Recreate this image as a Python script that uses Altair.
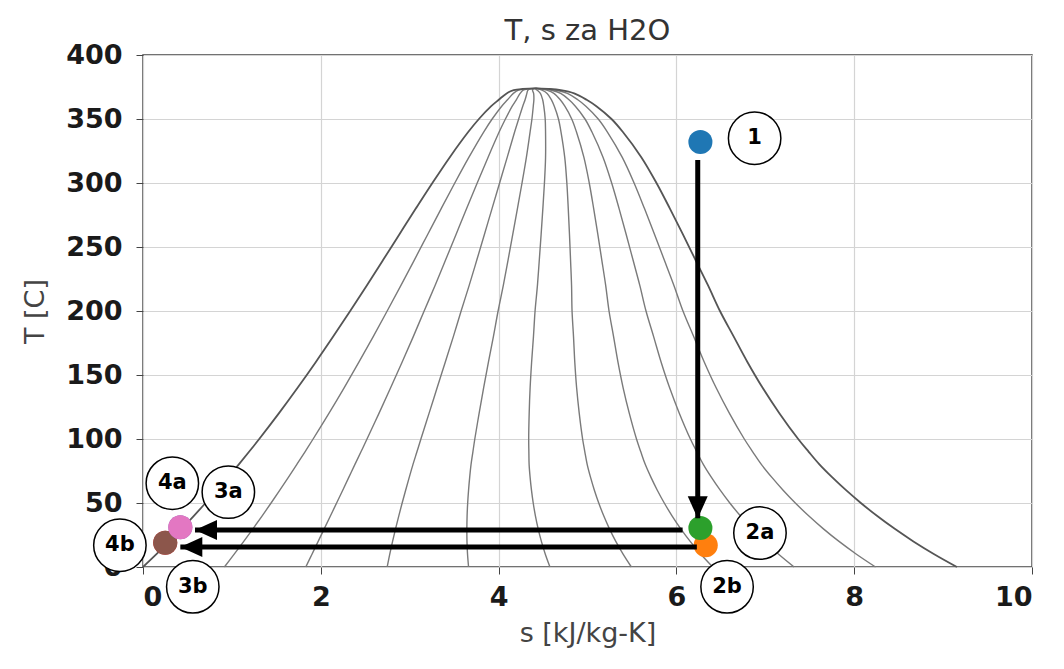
import altair as alt
import pandas as pd

# Saturation dome: T [C], s_f, s_g [kJ/kg-K]
sat_T = [0.01, 10, 20, 30, 40, 50, 60, 70, 80, 90, 100, 120, 140, 160, 180, 200,
         220, 240, 260, 280, 300, 320, 340, 350, 360, 365, 370, 372.5, 373.5, 373.95]
sat_sf = [0.0, 0.1511, 0.2965, 0.4368, 0.5724, 0.7038, 0.8313, 0.9551, 1.0756, 1.1929,
          1.3072, 1.5279, 1.7392, 1.9426, 2.1392, 2.3305, 2.5177, 2.7020, 2.8849, 3.0685,
          3.2552, 3.4494, 3.6601, 3.7784, 3.9167, 4.0014, 4.0900, 4.1700, 4.2700, 4.42]
sat_sg = [9.1556, 8.8999, 8.6661, 8.4521, 8.2557, 8.0749, 7.9082, 7.7540, 7.6111, 7.4880,
          7.3700, 7.1600, 6.9700, 6.8000, 6.6450, 6.4900, 6.3560, 6.2140, 6.0720, 5.9270,
          5.7760, 5.6070, 5.3960, 5.2700, 5.1000, 4.9900, 4.8500, 4.7000, 4.5600, 4.42]
qualities = [0.1, 0.2, 0.3, 0.4, 0.5, 0.6, 0.7, 0.8, 0.9]

# State points
pt_names = ["4b", "3b", "4a", "3a", "2b", "2a", "1"]
pt_s = [0.25, 0.25, 0.42, 0.42, 6.33, 6.27, 6.27]
pt_T = [19, 19, 31, 31, 17, 30.5, 332]
pt_colors = ["#d62728", "#8c564b", "#9467bd", "#e377c2", "#ff7f0e", "#2ca02c", "#1f77b4"]

# Arrows (shaft start -> tip)
arr_s = [6.24, 6.07, 6.23]
arr_T = [318, 29, 15.6]
arr_s2 = [6.24, 0.585, 0.42]
arr_T2 = [38, 29, 15.6]
arr_dir = ["down", "left", "left"]

# Circled labels
lab_text = ["1", "2a", "2b", "3a", "3b", "4a", "4b"]
lab_s = [6.88, 6.94, 6.57, 0.96, 0.56, 0.33, -0.26]
lab_T = [335, 26.5, -15.5, 58.5, -15.5, 65.5, 17]

# ---- build tables ----
dome_rows = []
order = 0
for T, sf in zip(sat_T, sat_sf):
    dome_rows.append({"s": sf, "T": T, "o": order}); order += 1
for T, sg in reversed(list(zip(sat_T[:-1], sat_sg[:-1]))):
    dome_rows.append({"s": sg, "T": T, "o": order}); order += 1
dome_df = pd.DataFrame(dome_rows)

q_rows = []
for q in qualities:
    for i, (T, sf, sg) in enumerate(zip(sat_T, sat_sf, sat_sg)):
        q_rows.append({"q": q, "T": T, "s": sf + q * (sg - sf), "o": i})
q_df = pd.DataFrame(q_rows)

pts_df = pd.DataFrame({"name": pt_names, "s": pt_s, "T": pt_T, "c": pt_colors})
arr_df = pd.DataFrame({"s": arr_s, "T": arr_T, "s2": arr_s2, "T2": arr_T2, "dir": arr_dir})
lab_df = pd.DataFrame({"t": lab_text, "s": lab_s, "T": lab_T})

xs = alt.Scale(domain=[0, 10], nice=False)
ys = alt.Scale(domain=[0, 400], nice=False)

x_axis = alt.Axis(values=[0, 2, 4, 6, 8, 10], format="d", title="s [kJ/kg-K]", grid=True)
y_axis = alt.Axis(values=list(range(0, 401, 50)), format="d", title="T [C]", grid=True)

base_x = alt.X("s:Q", scale=xs, axis=x_axis)
base_y = alt.Y("T:Q", scale=ys, axis=y_axis)

quality = alt.Chart(q_df).mark_line(color="#7a7a7a", strokeWidth=1.4,
                                    interpolate="catmull-rom").encode(
    x=base_x, y=base_y, detail="q:N", order="o:Q")

dome = alt.Chart(dome_df).mark_line(color="#555555", strokeWidth=1.8,
                                    interpolate="catmull-rom").encode(
    x=alt.X("s:Q", scale=xs), y=alt.Y("T:Q", scale=ys), order="o:Q")

points = alt.Chart(pts_df).mark_circle(size=580, opacity=1).encode(
    x=alt.X("s:Q", scale=xs), y=alt.Y("T:Q", scale=ys),
    color=alt.Color("c:N", scale=None))

shafts = alt.Chart(arr_df).mark_rule(color="black", strokeWidth=5).encode(
    x=alt.X("s:Q", scale=xs), y=alt.Y("T:Q", scale=ys),
    x2="s2:Q", y2="T2:Q")

head_down = alt.Chart(arr_df).transform_filter("datum.dir == 'down'").mark_point(
    shape="M0,0 L-1,-2.2 L1,-2.2 Z", filled=True, color="black", opacity=1, size=400
).encode(x=alt.X("s2:Q", scale=xs), y=alt.Y("T2:Q", scale=ys))

head_left = alt.Chart(arr_df).transform_filter("datum.dir == 'left'").mark_point(
    shape="M0,0 L2.2,-1 L2.2,1 Z", filled=True, color="black", opacity=1, size=400
).encode(x=alt.X("s2:Q", scale=xs), y=alt.Y("T2:Q", scale=ys))

lab_circ = alt.Chart(lab_df).mark_point(
    shape="circle", filled=True, fill="white", stroke="black", strokeWidth=1.5,
    opacity=1, size=2750
).encode(x=alt.X("s:Q", scale=xs), y=alt.Y("T:Q", scale=ys))

lab_txt = alt.Chart(lab_df).mark_text(
    font="DejaVu Sans", fontWeight="bold", fontSize=21, color="black", baseline="middle"
).encode(x=alt.X("s:Q", scale=xs), y=alt.Y("T:Q", scale=ys), text="t:N")

chart = alt.layer(quality, dome, points, shafts, head_down, head_left, lab_circ, lab_txt).properties(
    width=889, height=512,
    title=alt.Title("T, s za H2O", fontSize=29, font="DejaVu Sans", fontWeight="normal",
                    color="#333333", offset=-5, anchor="middle"),
    autosize=alt.AutoSizeParams(type="none"),
    padding={"left": 135, "top": 47, "right": 24, "bottom": 94},
).configure_view(stroke="#444444", strokeWidth=1.5).configure_axis(
    labelFont="DejaVu Sans", labelFontWeight="bold", labelFontSize=27, labelColor="#1a1a1a",
    titleFont="DejaVu Sans", titleFontWeight="normal", titleFontSize=27, titleColor="#444444",
    gridColor="#d4d4d4", gridWidth=1.2, domain=False, tickColor="#444444", tickSize=7,
    labelPadding=7
).configure_axisX(titlePadding=10, labelPadding=10).configure_axisY(titlePadding=16, labelPadding=14)

chart.save("out.html", embed_options={"renderer": "svg", "actions": False})
